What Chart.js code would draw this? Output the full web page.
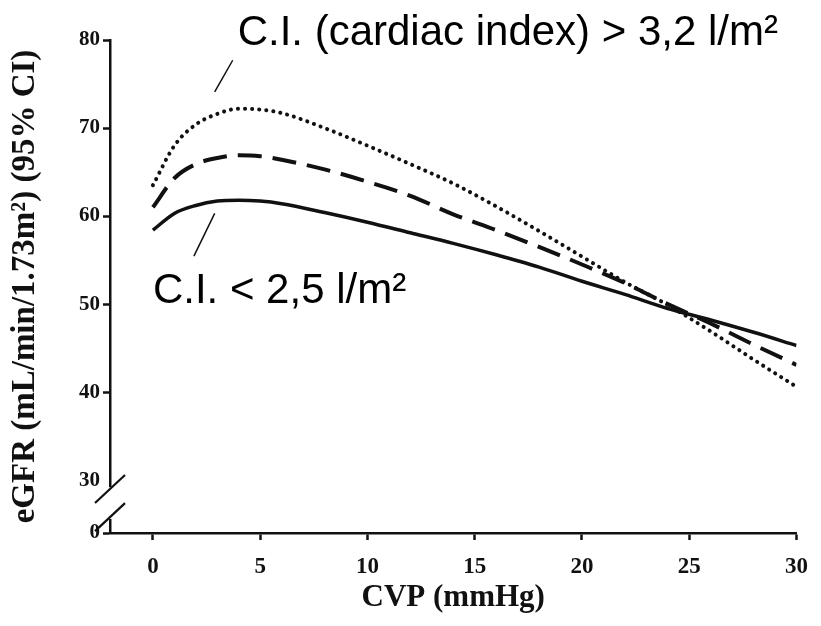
<!DOCTYPE html>
<html>
<head>
<meta charset="utf-8">
<script src="https://cdn.jsdelivr.net/npm/chart.js@4.4.1/dist/chart.umd.min.js"></script>
<style>
  html, body { margin: 0; padding: 0; background: #fff; }
  #wrap { width: 821px; height: 626px; }
</style>
</head>
<body>
<div id="wrap"><canvas id="egfrChart" width="821" height="626"></canvas></div>
<script>
// CVP (mmHg) where the curves were read
const cvp = [0, 1, 2, 3, 4, 5, 6, 8, 10, 12, 14, 16, 18, 20, 22, 24, 26, 28, 30];

// eGFR by cardiac index group
const ciLow  = [58.4, 60.3, 61.2, 61.7, 61.8, 61.7, 61.4, 60.4, 59.3, 58.1, 56.9, 55.6, 54.2, 52.6, 51.1, 49.5, 48.2, 46.8, 45.3];
const ciMid  = [61.0, 64.3, 65.9, 66.6, 66.9, 66.8, 66.4, 65.3, 63.9, 62.3, 60.2, 58.4, 56.5, 54.5, 52.4, 50.0, 47.8, 45.4, 43.1];
const ciHigh = [63.5, 68.0, 70.4, 71.6, 72.2, 72.1, 71.7, 70.0, 68.0, 65.9, 63.7, 61.1, 58.3, 55.4, 52.5, 49.9, 46.9, 43.7, 40.6];

const xTicks = [0, 5, 10, 15, 20, 25, 30];
const yTicks = [30, 40, 50, 60, 70, 80];
const yBottom = 24; // broken axis, shown as "0"

const labelHigh = "C.I. (cardiac index) > 3,2 l/m²";
const labelLow = "C.I. < 2,5 l/m²";

const ink = "#111";
const serif = "'Liberation Serif', 'Times New Roman', serif";

function toPoints(ys) {
  return cvp.map((v, i) => ({ x: v, y: ys[i] }));
}

// axis break + the two text labels with their leader lines
const annotations = {
  id: "annotations",
  afterDraw(chart) {
    const { ctx } = chart;
    const x = chart.scales.x;
    const y = chart.scales.y;
    const ax = chart.chartArea.left;

    ctx.save();
    ctx.fillStyle = "#fff";
    const gTop = y.getPixelForValue(29.2);
    const gBot = y.getPixelForValue(25.6);
    ctx.fillRect(ax - 4, gTop, 8, gBot - gTop);

    ctx.strokeStyle = ink;
    ctx.lineWidth = 2.2;
    [29, 25.8].forEach(v => {
      const py = y.getPixelForValue(v);
      ctx.beginPath();
      ctx.moveTo(ax - 15, py + 14);
      ctx.lineTo(ax + 15, py - 14);
      ctx.stroke();
    });

    ctx.lineWidth = 1.5;
    ctx.beginPath();
    ctx.moveTo(x.getPixelForValue(2.88), y.getPixelForValue(74.1));
    ctx.lineTo(x.getPixelForValue(3.72), y.getPixelForValue(77.7));
    ctx.moveTo(x.getPixelForValue(1.91), y.getPixelForValue(55.45));
    ctx.lineTo(x.getPixelForValue(2.88), y.getPixelForValue(60.3));
    ctx.stroke();

    ctx.fillStyle = "#000";
    ctx.font = "42px 'Liberation Sans', Arial, sans-serif";
    ctx.textBaseline = "alphabetic";
    ctx.textAlign = "left";
    ctx.fillText(labelHigh, x.getPixelForValue(3.95), y.getPixelForValue(79.4));
    ctx.fillText(labelLow, x.getPixelForValue(0), y.getPixelForValue(50.1));
    ctx.restore();
  }
};

new Chart(document.getElementById("egfrChart"), {
  type: "line",
  data: {
    datasets: [
      {
        label: "C.I. > 3,2 l/m²",
        data: toPoints(ciHigh),
        borderColor: ink,
        borderWidth: 4,
        borderDash: [0.1, 7],
        borderCapStyle: "round"
      },
      {
        label: "C.I. 2,5 - 3,2 l/m²",
        data: toPoints(ciMid),
        borderColor: ink,
        borderWidth: 4,
        borderDash: [24, 11]
      },
      {
        label: "C.I. < 2,5 l/m²",
        data: toPoints(ciLow),
        borderColor: ink,
        borderWidth: 3.5
      }
    ]
  },
  options: {
    responsive: false,
    animation: false,
    devicePixelRatio: 1,
    layout: { padding: { top: 40, right: 24, left: 0, bottom: 0 } },
    plugins: {
      legend: { display: false },
      tooltip: { enabled: false }
    },
    elements: {
      point: { radius: 0 },
      line: { cubicInterpolationMode: "monotone", fill: false }
    },
    scales: {
      x: {
        type: "linear",
        min: -2,
        max: 30,
        afterBuildTicks: s => { s.ticks = xTicks.map(v => ({ value: v })); },
        afterFit: s => { s.height = 93; },
        border: { color: ink, width: 2.5 },
        grid: { display: true, drawOnChartArea: false, tickLength: 7, tickWidth: 2.5, tickColor: ink },
        ticks: { color: ink, padding: 13, maxRotation: 0, font: { family: serif, weight: "bold", size: 23 } },
        title: {
          display: true,
          text: "CVP (mmHg)",
          color: ink,
          padding: { top: 0, bottom: 9 },
          font: { family: serif, weight: "bold", size: 31 }
        }
      },
      y: {
        type: "linear",
        min: yBottom,
        max: 80,
        afterBuildTicks: s => {
          s.ticks = [{ value: yBottom }].concat(yTicks.map(v => ({ value: v })));
        },
        afterFit: s => { s.width = 110; },
        border: { color: ink, width: 2.5 },
        grid: {
          display: true,
          drawOnChartArea: false,
          tickLength: 7,
          tickWidth: 2.5,
          tickColor: c => (c.tick && c.tick.value === 30 ? "rgba(0,0,0,0)" : ink)
        },
        ticks: {
          color: ink,
          padding: 3,
          font: { family: serif, weight: "bold", size: 21 },
          callback: v => (v === yBottom ? "0" : v)
        },
        title: {
          display: true,
          text: "eGFR (mL/min/1.73m²) (95% CI)",
          color: ink,
          padding: { top: 6, bottom: 0 },
          font: { family: serif, weight: "bold", size: 33 }
        }
      }
    }
  },
  plugins: [annotations]
});
</script>
</body>
</html>
